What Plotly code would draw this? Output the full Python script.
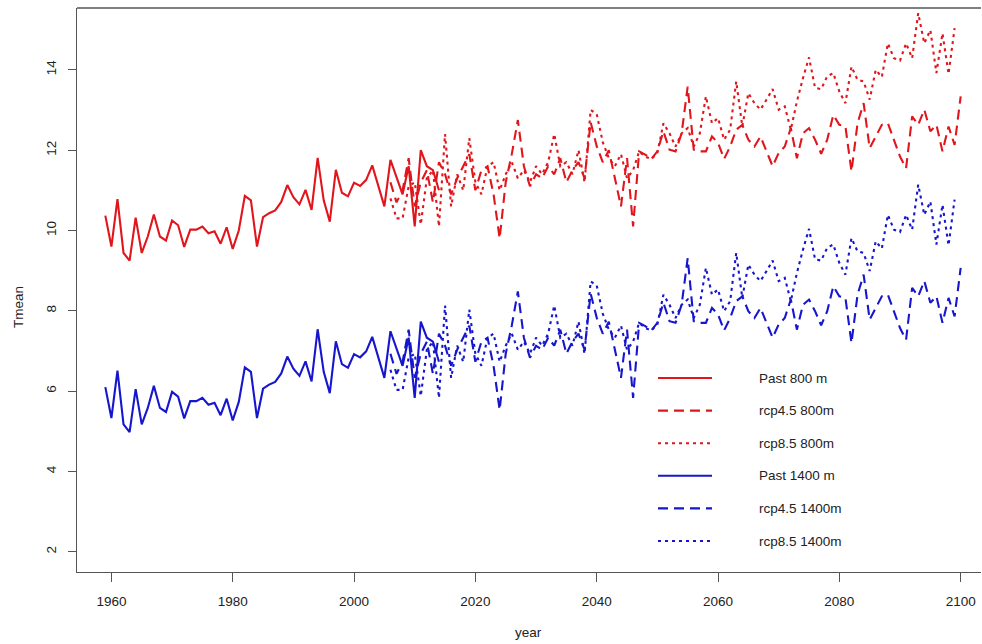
import plotly.graph_objects as go

# ---------------- data ----------------
years_past = list(range(1959, 2015))
years_rcp45 = list(range(2006, 2101))
years_rcp85 = list(range(2006, 2100))

past_800 = [10.37, 9.60, 10.78, 9.44, 9.25, 10.32, 9.44, 9.85, 10.40, 9.85,
            9.75, 10.25, 10.13, 9.59, 10.02, 10.02, 10.10, 9.93, 9.98, 9.67,
            10.08, 9.54, 10.00, 10.86, 10.75, 9.60, 10.33, 10.43, 10.50, 10.71,
            11.13, 10.83, 10.65, 11.01, 10.51, 11.81, 10.75, 10.22, 11.51, 10.94,
            10.85, 11.19, 11.11, 11.26, 11.62, 11.09, 10.60, 11.76, 11.34, 10.90,
            11.60, 10.10, 12.00, 11.60, 11.50, 11.00]

rcp45_800 = [11.2, 10.7, 11.0, 11.8, 10.6, 11.2, 11.5, 10.7, 11.7, 11.4,
             10.9, 11.3, 11.6, 11.9, 11.0, 11.5, 11.6, 10.9, 9.8, 11.2,
             11.9, 12.75, 11.6, 11.1, 11.4, 11.3, 11.6, 11.4, 11.8, 11.2,
             11.5, 11.7, 11.3, 12.7, 12.1, 11.7, 12.0, 11.3, 10.6, 11.8,
             10.1, 11.97, 11.89, 11.78, 11.97, 12.47, 12.01, 11.97, 12.42, 13.58,
             12.01, 11.97, 11.97, 12.34, 12.18, 11.78, 12.09, 12.51, 12.63, 12.26,
             12.09, 12.34, 11.97, 11.60, 11.93, 12.09, 12.55, 11.80, 12.42, 12.55,
             12.26, 11.91, 12.26, 12.88, 12.63, 12.59, 11.47, 12.67, 13.17, 12.05,
             12.34, 12.63, 12.67, 12.26, 11.84, 11.55, 12.84, 12.63, 13.01, 12.47,
             12.63, 11.97, 12.59, 12.13, 13.34]

rcp85_800 = [10.8, 10.3, 10.3, 11.1, 11.2, 10.15, 11.3, 11.5, 10.1, 12.4,
             10.6, 11.4, 11.0, 12.3, 11.2, 10.9, 11.6, 11.7, 11.0, 11.4,
             11.7, 11.3, 11.5, 11.2, 11.6, 11.4, 11.7, 12.4, 11.6, 11.7,
             11.4, 12.0, 11.2, 13.0, 12.9, 12.2, 11.8, 11.6, 11.9, 11.3,
             11.5, 11.97, 11.84, 11.78, 11.93, 12.67, 12.42, 12.09, 12.42, 12.55,
             12.09, 12.42, 13.34, 12.67, 12.80, 12.26, 12.51, 13.71, 12.59, 13.42,
             13.17, 13.01, 13.26, 13.52, 13.01, 13.09, 12.51, 13.21, 13.79, 14.31,
             13.55, 13.52, 13.84, 13.92, 13.46, 13.17, 14.08, 13.75, 13.71, 13.26,
             14.00, 13.82, 14.66, 14.29, 14.23, 14.66, 14.29, 15.41, 14.66, 14.99,
             13.92, 14.91, 13.90, 15.04]

past_1400 = [6.10, 5.33, 6.51, 5.17, 4.98, 6.05, 5.17, 5.58, 6.13, 5.58,
             5.48, 5.98, 5.86, 5.32, 5.75, 5.75, 5.83, 5.66, 5.71, 5.40,
             5.81, 5.27, 5.73, 6.59, 6.48, 5.33, 6.06, 6.16, 6.23, 6.44,
             6.86, 6.56, 6.38, 6.74, 6.24, 7.54, 6.48, 5.95, 7.24, 6.67,
             6.58, 6.92, 6.84, 6.99, 7.35, 6.82, 6.33, 7.49, 7.07, 6.63,
             7.33, 5.83, 7.73, 7.33, 7.23, 6.73]

rcp45_1400 = [6.93, 6.43, 6.73, 7.53, 6.33, 6.93, 7.23, 6.43, 7.43, 7.13,
              6.63, 7.03, 7.33, 7.63, 6.73, 7.23, 7.33, 6.63, 5.53, 6.93,
              7.63, 8.48, 7.33, 6.83, 7.13, 7.03, 7.33, 7.13, 7.53, 6.93,
              7.23, 7.43, 7.03, 8.43, 7.83, 7.43, 7.73, 7.03, 6.33, 7.53,
              5.83, 7.70, 7.62, 7.51, 7.70, 8.20, 7.74, 7.70, 8.15, 9.31,
              7.74, 7.70, 7.70, 8.07, 7.91, 7.51, 7.82, 8.24, 8.36, 7.99,
              7.82, 8.07, 7.70, 7.33, 7.66, 7.82, 8.28, 7.53, 8.15, 8.28,
              7.99, 7.64, 7.99, 8.61, 8.36, 8.32, 7.20, 8.40, 8.90, 7.78,
              8.07, 8.36, 8.40, 7.99, 7.57, 7.28, 8.57, 8.36, 8.74, 8.20,
              8.36, 7.70, 8.32, 7.86, 9.07]

rcp85_1400 = [6.53, 6.03, 6.03, 6.83, 6.93, 5.88, 7.03, 7.23, 5.83, 8.13,
              6.33, 7.13, 6.73, 8.03, 6.93, 6.63, 7.33, 7.43, 6.73, 7.13,
              7.43, 7.03, 7.23, 6.93, 7.33, 7.13, 7.43, 8.13, 7.33, 7.43,
              7.13, 7.73, 6.93, 8.73, 8.63, 7.93, 7.53, 7.33, 7.63, 7.03,
              7.23, 7.70, 7.57, 7.51, 7.66, 8.40, 8.15, 7.82, 8.15, 8.28,
              7.82, 8.15, 9.07, 8.40, 8.53, 7.99, 8.24, 9.44, 8.32, 9.15,
              8.90, 8.74, 8.99, 9.25, 8.74, 8.82, 8.24, 8.94, 9.52, 10.04,
              9.28, 9.25, 9.57, 9.65, 9.19, 8.90, 9.81, 9.48, 9.44, 8.99,
              9.73, 9.55, 10.39, 10.02, 9.96, 10.39, 10.02, 11.14, 10.39, 10.72,
              9.65, 10.64, 9.63, 10.77]

x_ticks = [1960, 1980, 2000, 2020, 2040, 2060, 2080, 2100]
y_ticks = [2, 4, 6, 8, 10, 12, 14]
legend_labels = ["Past 800 m", "rcp4.5 800m", "rcp8.5 800m",
                 "Past 1400 m", "rcp4.5 1400m", "rcp8.5 1400m"]

# ---------------- style ----------------
RED = "rgb(225,22,28)"
BLUE = "rgb(22,22,205)"
DASH = "10px,6px"
DOT = "3px,4px"
LW = 2.1

W, H = 982, 644
ML, MR, MT, MB = 77, 1, 8, 72
PW, PH = W - ML - MR, H - MT - MB

series = [
    (years_past, past_800, RED, "solid"),
    (years_rcp45, rcp45_800, RED, DASH),
    (years_rcp85, rcp85_800, RED, DOT),
    (years_past, past_1400, BLUE, "solid"),
    (years_rcp45, rcp45_1400, BLUE, DASH),
    (years_rcp85, rcp85_1400, BLUE, DOT),
]

fig = go.Figure()
for (xs, ys, col, dash), name in zip(series, legend_labels):
    fig.add_trace(go.Scatter(x=xs, y=ys, mode="lines", name=name,
                             line=dict(color=col, width=LW, dash=dash),
                             showlegend=False))

FONT = "Liberation Sans, Arial, sans-serif"
TXT = "#222"
FS = 13.5


def px_to_paper_x(px):
    return (px - ML) / PW


def px_to_paper_y(py):
    return (H - MB - py) / PH


shapes = []
annotations = []
# top border of the box (right border lies outside the cropped image)
shapes.append(dict(type="line", xref="paper", yref="paper", x0=0, x1=1, y0=1, y1=1,
                   line=dict(color="#555", width=1.3)))

# manual legend (no frame)
leg_rows = [378, 410.6, 443.2, 475.8, 508.4, 541]
styles = [(RED, "solid"), (RED, DASH), (RED, DOT), (BLUE, "solid"), (BLUE, DASH), (BLUE, DOT)]
for ry, (col, dash), lab in zip(leg_rows, styles, legend_labels):
    shapes.append(dict(type="line", xref="paper", yref="paper",
                       x0=px_to_paper_x(658), x1=px_to_paper_x(712),
                       y0=px_to_paper_y(ry), y1=px_to_paper_y(ry),
                       line=dict(color=col, width=LW, dash=dash)))
    annotations.append(dict(xref="paper", yref="paper", x=px_to_paper_x(757),
                            y=px_to_paper_y(ry), text=lab, showarrow=False,
                            xanchor="left", yanchor="middle",
                            font=dict(family=FONT, size=FS, color=TXT)))

annotations.append(dict(xref="paper", yref="paper", x=px_to_paper_x(528),
                        y=px_to_paper_y(632), text="year", showarrow=False,
                        xanchor="center", yanchor="middle",
                        font=dict(family=FONT, size=FS, color=TXT)))
annotations.append(dict(xref="paper", yref="paper", x=px_to_paper_x(18),
                        y=px_to_paper_y(307), text="Tmean", showarrow=False,
                        textangle=-90, xanchor="center", yanchor="middle",
                        font=dict(family=FONT, size=FS, color=TXT)))

fig.update_layout(
    width=W, height=H,
    margin=dict(l=ML, r=MR, t=MT, b=MB, pad=0),
    plot_bgcolor="white", paper_bgcolor="white",
    font=dict(family=FONT, size=FS, color=TXT),
    shapes=shapes, annotations=annotations,
    showlegend=False,
)
fig.update_xaxes(range=[1954.33, 2103.35], tickvals=x_ticks,
                 showgrid=False, zeroline=False, showline=True,
                 linecolor="#555", linewidth=1.3, ticks="outside", ticklen=9,
                 tickcolor="#555", tickwidth=1.2, ticklabelstandoff=8,
                 tickfont=dict(family=FONT, size=FS, color=TXT))
fig.update_yaxes(range=[1.495, 15.54], tickvals=y_ticks,
                 showgrid=False, zeroline=False, showline=True,
                 linecolor="#555", linewidth=1.3, ticks="outside", ticklen=8,
                 tickcolor="#555", tickwidth=1.2, tickangle=-90, ticklabelstandoff=6,
                 tickfont=dict(family=FONT, size=FS, color=TXT))

# remove the default page margin so the figure fills the 982x644 window exactly
fig.write_html("out.html",
               config={"displayModeBar": False},
               post_script="document.body.style.margin='0';"
                           "document.body.style.overflow='hidden';"
                           "document.documentElement.style.overflow='hidden';")
